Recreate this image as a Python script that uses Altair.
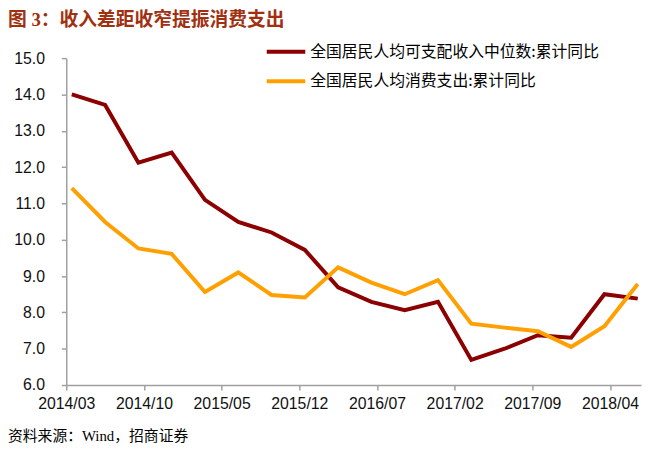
import altair as alt
import pandas as pd

# ---- data ----
months = ["2014/03", "2014/06", "2014/09", "2014/12",
          "2015/03", "2015/06", "2015/09", "2015/12",
          "2016/03", "2016/06", "2016/09", "2016/12",
          "2017/03", "2017/06", "2017/09", "2017/12",
          "2018/03", "2018/06"]
income = [14.00, 13.71, 12.12, 12.40, 11.10, 10.49, 10.20, 9.72,
          8.69, 8.29, 8.06, 8.29, 6.69, 7.00, 7.37, 7.30, 8.50, 8.38]
consumption = [11.42, 10.49, 9.76, 9.61, 8.56, 9.10, 8.48, 8.41,
               9.24, 8.82, 8.50, 8.89, 7.69, 7.58, 7.48, 7.05, 7.62, 8.78]
tick_labels = ["2014/03", "2014/10", "2015/05", "2015/12",
               "2016/07", "2017/02", "2017/09", "2018/04"]
y_ticks = [6, 7, 8, 9, 10, 11, 12, 13, 14, 15]
series_names = ["全国居民人均可支配收入中位数:累计同比", "全国居民人均消费支出:累计同比"]
colors = ["#8B0000", "#FFA000"]
title_text = "图 3：收入差距收窄提振消费支出"
source_text = "资料来源：Wind，招商证券"


def month_index(s):
    y, m = s.split("/")
    return (int(y) - 2014) * 12 + int(m) - 3


rows = []
for name, vals in zip(series_names, [income, consumption]):
    for mo, v in zip(months, vals):
        rows.append({"series": name, "month": mo,
                     "t": month_index(mo) + 0.5, "value": v})
df = pd.DataFrame(rows)

tick_vals = [month_index(s) for s in tick_labels]
label_expr = " : ".join(
    f"datum.value == {v} ? '{lab}'" for v, lab in zip(tick_vals, tick_labels)
) + " : ''"

axis_gray = "#A0A0A0"
num_font = "Liberation Sans"
cjk_font = "Noto Sans CJK SC"

lines = alt.Chart(df).mark_line(strokeWidth=4).encode(
    x=alt.X("t:Q",
            scale=alt.Scale(domain=[0, 51.8], nice=False, zero=False),
            axis=alt.Axis(values=tick_vals, labelExpr=label_expr, title=None,
                          grid=False, tickSize=5, labelPadding=6,
                          labelFont=num_font, labelFontSize=16,
                          labelColor="#111", domainColor=axis_gray,
                          domainWidth=1.5, tickColor=axis_gray,
                          tickWidth=1.5, labelFlush=False)),
    y=alt.Y("value:Q",
            scale=alt.Scale(domain=[6, 15], nice=False, zero=False),
            axis=alt.Axis(values=y_ticks, format=".1f", title=None,
                          grid=False, tickSize=5, labelPadding=17,
                          labelFont=num_font, labelFontSize=16,
                          labelColor="#111", domainColor=axis_gray,
                          domainWidth=1.5, tickColor=axis_gray,
                          tickWidth=1.5)),
    color=alt.Color("series:N",
                    scale=alt.Scale(domain=series_names, range=colors),
                    legend=alt.Legend(orient="none", legendX=201, legendY=-28,
                                      title=None, symbolType="stroke",
                                      symbolSize=1521, symbolStrokeWidth=4,
                                      labelFont=cjk_font, labelFontSize=16,
                                      labelColor="#000", rowPadding=-11,
                                      labelOffset=3, padding=0,
                                      labelLimit=0)),
    order=alt.Order("t:Q"),
    detail="series:N",
)

title = alt.Chart(pd.DataFrame({"txt": [title_text]})).mark_text(
    align="left", baseline="top", font="Liberation Serif, Noto Sans CJK SC",
    fontSize=19, fontWeight="bold", color="#A0300F"
).encode(text="txt:N", x=alt.value(-59), y=alt.value(-48))

source = alt.Chart(pd.DataFrame({"txt": [source_text]})).mark_text(
    align="left", baseline="middle", font="Liberation Serif, Noto Sans CJK SC",
    fontSize=15, color="#000"
).encode(text="txt:N", x=alt.value(-59), y=alt.value(383))

chart = alt.layer(lines, title, source).properties(
    width=582, height=331,
    autosize=alt.AutoSizeParams(type="none"),
    padding={"left": 59, "top": 48, "right": 5, "bottom": 62},
).configure_view(stroke=None)

chart.save("out.html", embed_options={"renderer": "svg", "actions": False})
